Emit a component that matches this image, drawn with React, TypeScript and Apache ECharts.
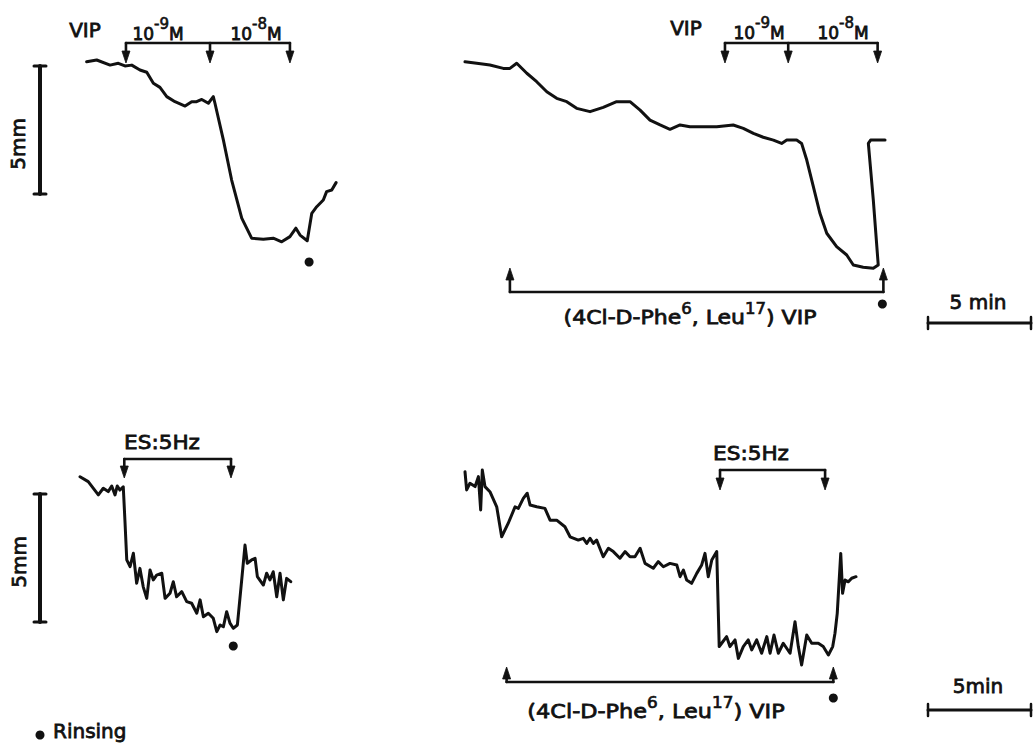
import React, { useEffect, useRef } from "react";
import * as echarts from "echarts";

// ---------- DATA (time in min, tension change in mm) ----------
// Panel A: VIP alone
const traceVip: [number, number][] = [
  [0.03, -0.07], [0.52, 0], [1.17, -0.2], [1.57, -0.13], [1.89, -0.23], [2.22, -0.2],
  [2.62, -0.39], [2.95, -0.48], [3.27, -0.91], [3.59, -1.07], [3.92, -1.43], [4.32, -1.63],
  [4.81, -1.8], [5.13, -1.63], [5.37, -1.63], [5.62, -1.54], [5.94, -1.69], [6.18, -1.43],
  [6.26, -1.69], [6.67, -3.13], [7.07, -4.69], [7.56, -6.18], [8.04, -6.96], [8.61, -7.0],
  [9.09, -6.96], [9.5, -7.1], [9.9, -6.9], [10.19, -6.57], [10.39, -6.84], [10.74, -7.06],
  [10.96, -5.99], [11.2, -5.73], [11.52, -5.47], [11.68, -5.14], [11.93, -5.08], [12.14, -4.79],
];
const vipEventsA = [1.94, 6.02, 9.9]; // 10^-9 M, 10^-8 M, end
const rinseA = 10.83;

// Panel B: VIP in presence of antagonist
const traceVipAntag: [number, number][] = [
  [0, 0.01], [0.57, -0.05], [1.21, -0.12], [1.86, -0.25], [2.18, -0.25], [2.51, -0.05],
  [3.0, -0.44], [3.48, -0.77], [3.97, -1.16], [4.45, -1.42], [4.94, -1.55], [5.42, -1.81],
  [6.07, -1.94], [6.71, -1.77], [7.36, -1.55], [8.01, -1.55], [8.5, -1.88], [8.98, -2.27],
  [9.47, -2.46], [9.95, -2.63], [10.44, -2.46], [10.92, -2.53], [11.57, -2.53], [12.22, -2.53],
  [13.02, -2.46], [13.51, -2.59], [14.0, -2.79], [14.48, -2.94], [14.97, -3.05], [15.37, -3.18],
  [15.62, -3.05], [16.1, -3.05], [16.34, -3.18], [16.59, -3.83], [16.91, -4.87], [17.23, -5.91],
  [17.56, -6.69], [18.04, -7.21], [18.53, -7.54], [18.85, -7.93], [19.33, -8.02], [19.82, -8.06],
  [20.06, -7.93], [19.82, -5.39], [19.58, -3.18], [19.69, -3.05], [20.39, -3.05],
];
const vipEventsB = [12.62, 15.69, 20.03];
const antagB = [2.18, 20.31];
const rinseB = 20.26;

// Panel C: electrical stimulation alone
const traceEs: [number, number][] = [
  [0, 0.01], [0.4, -0.18], [0.89, -0.7], [1.13, -0.44], [1.37, -0.57], [1.54, -0.35],
  [1.7, -0.7], [1.81, -0.35], [1.94, -0.51], [2.1, -0.38], [2.18, -1.68], [2.27, -3.24],
  [2.43, -3.5], [2.59, -2.98], [2.75, -4.15], [2.91, -3.57], [3.07, -4.29], [3.24, -4.74],
  [3.4, -3.63], [3.56, -4.02], [3.72, -3.83], [3.97, -3.76], [4.13, -4.74], [4.37, -4.54],
  [4.53, -4.09], [4.69, -4.68], [4.94, -4.48], [5.18, -4.87], [5.42, -4.93], [5.67, -5.32],
  [5.83, -4.8], [5.99, -5.46], [6.23, -5.32], [6.47, -5.52], [6.64, -6.04], [6.8, -5.78],
  [6.96, -5.85], [7.12, -5.26], [7.28, -5.71], [7.44, -5.91], [7.64, -5.78], [7.85, -4.02],
  [8.01, -2.66], [8.12, -3.37], [8.33, -3.24], [8.5, -3.18], [8.61, -3.89], [8.9, -4.22],
  [9.06, -3.76], [9.22, -4.02], [9.38, -3.7], [9.55, -4.68], [9.71, -3.76], [9.87, -4.8],
  [10.03, -3.96], [10.23, -4.09],
];
const esEventsC = [2.15, 7.33];
const rinseC = 7.44;

// Panel D: electrical stimulation in presence of antagonist
const traceEsAntag: [number, number][] = [
  [0, 0.01], [0.08, -0.7], [0.24, -0.44], [0.49, -0.57], [0.65, -0.18], [0.76, -1.48],
  [0.84, 0.08], [0.97, -0.57], [1.21, -0.77], [1.54, -1.36], [1.78, -2.53], [2.1, -2.0],
  [2.43, -1.36], [2.59, -1.42], [2.83, -1.03], [3.02, -0.83], [3.16, -1.29], [3.48, -1.36],
  [3.88, -1.42], [4.13, -1.88], [4.45, -1.88], [4.85, -2.14], [5.1, -2.53], [5.5, -2.66],
  [5.74, -2.59], [5.91, -2.79], [6.07, -2.59], [6.23, -2.79], [6.39, -2.66], [6.71, -3.31],
  [6.96, -2.98], [7.2, -3.11], [7.52, -3.37], [7.77, -3.11], [8.01, -3.31], [8.25, -3.31],
  [8.5, -2.98], [8.74, -3.57], [9.14, -3.76], [9.38, -3.5], [9.63, -3.7], [9.95, -3.57],
  [10.28, -3.63], [10.44, -4.09], [10.6, -3.83], [10.76, -4.22], [11.0, -4.35], [11.25, -3.96],
  [11.49, -3.63], [11.65, -3.18], [11.81, -4.09], [11.98, -3.44], [12.22, -3.11], [12.34, -6.82],
  [12.46, -6.69], [12.7, -6.43], [12.86, -6.82], [13.11, -6.56], [13.27, -7.28], [13.51, -6.82],
  [13.75, -6.56], [13.92, -6.95], [14.16, -6.56], [14.4, -7.08], [14.65, -6.43], [14.81, -7.08],
  [15.0, -6.37], [15.21, -7.08], [15.45, -6.69], [15.78, -7.08], [16.02, -5.85], [16.18, -6.82],
  [16.34, -7.54], [16.59, -6.37], [16.83, -6.69], [17.15, -6.69], [17.39, -6.82], [17.64, -7.15],
  [17.85, -6.82], [17.96, -6.3], [18.07, -5.52], [18.24, -3.18], [18.33, -4.74], [18.45, -4.22],
  [18.61, -4.29], [18.77, -4.15], [18.98, -4.09],
];
const esEventsD = [12.38, 17.48];
const antagD = [2.02, 17.88];
const rinseD = 17.88;

const SCALE_MM = 5;
const SCALE_MIN = 5;

// ---------- LAYOUT ----------
const PX_MIN = 20.6;
const PX_MM = 25.6;
const panels = [
  { left: 86, baseY: 60, xMax: 12.5, yMin: -8.5, yMax: 1, data: traceVip },
  { left: 465, baseY: 62, xMax: 21, yMin: -8.5, yMax: 1, data: traceVipAntag },
  { left: 80, baseY: 477, xMax: 10.5, yMin: -7, yMax: 1, data: traceEs },
  { left: 465, baseY: 472, xMax: 19.5, yMin: -8, yMax: 1, data: traceEsAntag },
];

const INK = "#111111";
const FONT = '"DejaVu Sans", Verdana, sans-serif';
const TEXT_STROKE = 0.8;

function textEl(x: number, y: number, text: string, size: number, extra: any = {}) {
  const { rich, scaleX, rotation } = extra;
  return {
    type: "text",
    x,
    y,
    scaleX: scaleX ?? 1,
    rotation: rotation ?? 0,
    silent: true,
    style: {
      text,
      fill: INK,
      fontSize: size,
      fontFamily: FONT,
      stroke: INK,
      lineWidth: TEXT_STROKE,
      align: "center",
      verticalAlign: "middle",
      textAlign: "center",
      textVerticalAlign: "middle",
      rich,
    },
  };
}

function supRich(base: number, sup: number) {
  return {
    n: { fontSize: base, fontFamily: FONT, fill: INK, lineHeight: 26, verticalAlign: "bottom", stroke: INK, lineWidth: TEXT_STROKE },
    s: { fontSize: sup, fontFamily: FONT, fill: INK, lineHeight: 26, verticalAlign: "top", stroke: INK, lineWidth: TEXT_STROKE * 0.8 },
  };
}

const lineStyle = { stroke: INK, lineWidth: 2.6, lineCap: "round" };

function lineEl(x1: number, y1: number, x2: number, y2: number, w = 2.6) {
  return { type: "line", silent: true, shape: { x1, y1, x2, y2 }, style: { ...lineStyle, lineWidth: w } };
}

function triEl(x: number, tipY: number, dir: 1 | -1) {
  // dir 1: pointing down, -1: pointing up
  return {
    type: "polygon",
    silent: true,
    shape: { points: [[x - 4, tipY - dir * 12], [x + 4, tipY - dir * 12], [x, tipY]] },
    style: { fill: INK, stroke: INK, lineWidth: 0.8 },
  };
}

function bracketDown(xs: number[], y: number, tipY: number) {
  const els: any[] = [lineEl(xs[0], y, xs[xs.length - 1], y)];
  xs.forEach((x) => {
    els.push(lineEl(x, y, x, tipY - 6));
    els.push(triEl(x, tipY, 1));
  });
  return els;
}

function bracketUp(xs: number[], y: number, tipY: number) {
  const els: any[] = [lineEl(xs[0], y, xs[xs.length - 1], y)];
  xs.forEach((x) => {
    els.push(lineEl(x, y, x, tipY + 6));
    els.push(triEl(x, tipY, -1));
  });
  return els;
}

function dot(x: number, y: number) {
  return { type: "circle", silent: true, shape: { cx: x, cy: y, r: 4.5 }, style: { fill: INK } };
}

export default function App() {
  const ref = useRef<HTMLDivElement>(null);
  useEffect(() => {
    if (!ref.current) return;
    const chart = echarts.init(ref.current, undefined, { renderer: "svg" });
    const option: any = {
      animation: false,
      backgroundColor: "#ffffff",
      grid: panels.map((p) => ({
        left: p.left,
        top: p.baseY - p.yMax * PX_MM,
        width: p.xMax * PX_MIN,
        height: (p.yMax - p.yMin) * PX_MM,
        containLabel: false,
      })),
      xAxis: panels.map((p, i) => ({ type: "value", gridIndex: i, min: 0, max: p.xMax, show: false })),
      yAxis: panels.map((p, i) => ({
        type: "value",
        gridIndex: i,
        min: p.yMin,
        max: p.yMax,
        show: false,
        splitLine: { show: false },
      })),
      series: panels.map((p, i) => ({
        type: "line",
        xAxisIndex: i,
        yAxisIndex: i,
        data: p.data,
        showSymbol: false,
        symbol: "none",
        silent: true,
        lineStyle: { color: INK, width: 3, join: "round", cap: "round" },
      })),
    };
    chart.setOption(option);

    const X = (g: number, t: number) => (chart.convertToPixel({ gridIndex: g }, [t, 0]) as number[])[0];
    const Y = (g: number, v: number) => (chart.convertToPixel({ gridIndex: g }, [0, v]) as number[])[1];

    const els: any[] = [];
    // Panel A annotations
    els.push(...bracketDown(vipEventsA.map((t) => X(0, t)), 43, 63));
    els.push(textEl(85, 30, "VIP", 20));
    els.push(textEl(158, 29, "{n|10}{s|-9}{n|M}", 17, { rich: supRich(17, 15) }));
    els.push(textEl(256, 29, "{n|10}{s|-8}{n|M}", 17, { rich: supRich(17, 15) }));
    els.push(dot(X(0, rinseA), 262));
    // 5 mm scale bar (A)
    {
      const yTop = Y(0, -0.23);
      const yBot = Y(0, -0.23 - SCALE_MM);
      els.push(lineEl(40, yTop, 40, yBot, 4));
      els.push(lineEl(34, yTop, 46, yTop, 3));
      els.push(lineEl(34, yBot, 46, yBot, 3));
      els.push(textEl(18, (yTop + yBot) / 2 + 14, "5mm", 20, { rotation: Math.PI / 2 }));
    }

    // Panel B annotations
    els.push(...bracketDown(vipEventsB.map((t) => X(1, t)), 43, 63));
    els.push(textEl(686, 28, "VIP", 20));
    els.push(textEl(759, 28, "{n|10}{s|-9}{n|M}", 17, { rich: supRich(17, 15) }));
    els.push(textEl(843, 28, "{n|10}{s|-8}{n|M}", 17, { rich: supRich(17, 15) }));
    els.push(...bracketUp(antagB.map((t) => X(1, t)), 292, 268));
    els.push(textEl(690, 314, "{n|(4Cl-D-Phe}{s|6}{n|, Leu}{s|17}{n|) VIP}", 20, { rich: supRich(20, 15), scaleX: 1.1 }));
    els.push(dot(X(1, rinseB), 304));
    // 5 min bar (top)
    {
      const len = X(1, SCALE_MIN) - X(1, 0);
      const x0 = 928;
      els.push(lineEl(x0, 323, x0 + len, 323, 3));
      els.push(lineEl(x0, 317, x0, 329, 2.5));
      els.push(lineEl(x0 + len, 317, x0 + len, 329, 2.5));
      els.push(textEl(978, 302, "5 min", 20));
    }

    // Panel C annotations
    els.push(...bracketDown(esEventsC.map((t) => X(2, t)), 459, 478));
    els.push(textEl(162, 442, "ES:5Hz", 20, { scaleX: 1.08 }));
    els.push(dot(X(2, rinseC), 646));
    {
      const yTop = Y(2, -0.66);
      const yBot = Y(2, -0.66 - SCALE_MM);
      els.push(lineEl(40, yTop, 40, yBot, 4));
      els.push(lineEl(34, yTop, 46, yTop, 3));
      els.push(lineEl(34, yBot, 46, yBot, 3));
      els.push(textEl(19, (yTop + yBot) / 2 + 4, "5mm", 20, { rotation: Math.PI / 2 }));
    }

    // Panel D annotations
    els.push(...bracketDown(esEventsD.map((t) => X(3, t)), 470, 490));
    els.push(textEl(751, 453, "ES:5Hz", 20, { scaleX: 1.08 }));
    els.push(...bracketUp(antagD.map((t) => X(3, t)), 682, 667));
    els.push(textEl(656, 708, "{n|(4Cl-D-Phe}{s|6}{n|, Leu}{s|17}{n|) VIP}", 20, { rich: supRich(20, 15), scaleX: 1.12 }));
    els.push(dot(X(3, rinseD), 698));
    {
      const len = X(3, SCALE_MIN) - X(3, 0);
      const x0 = 928;
      els.push(lineEl(x0, 710, x0 + len, 710, 3));
      els.push(lineEl(x0, 704, x0, 716, 2.5));
      els.push(lineEl(x0 + len, 704, x0 + len, 716, 2.5));
      els.push(textEl(978, 686, "5min", 20));
    }

    // Legend
    els.push(dot(40, 735));
    els.push({
      type: "text",
      x: 53,
      y: 731,
      silent: true,
      style: {
        text: "Rinsing",
        fill: INK,
        fontSize: 20,
        fontFamily: FONT,
        stroke: INK,
        lineWidth: TEXT_STROKE,
        align: "left",
        verticalAlign: "middle",
        textAlign: "left",
        textVerticalAlign: "middle",
      },
    });

    chart.setOption({ graphic: { elements: els } });
    return () => chart.dispose();
  }, []);

  return (
    <div
      ref={ref}
      style={{ position: "fixed", left: 0, top: 0, width: 1033, height: 745, background: "#fff" }}
    />
  );
}
